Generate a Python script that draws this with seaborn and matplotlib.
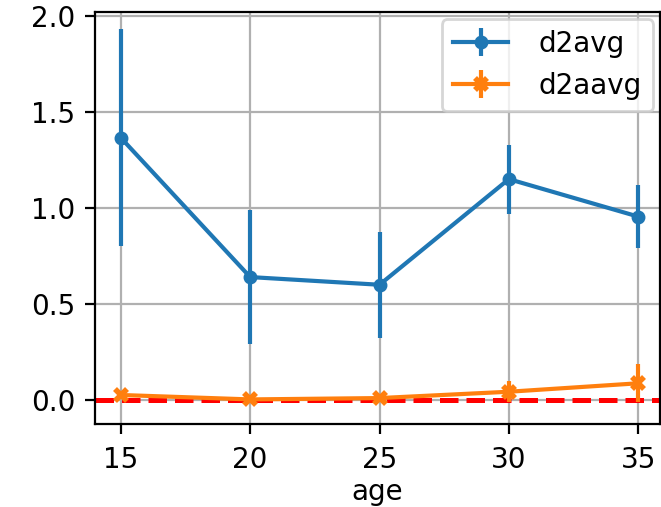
import matplotlib
matplotlib.use("Agg")
import matplotlib.pyplot as plt
import seaborn as sns

# data
ages = [15, 20, 25, 30, 35]
d2avg = [1.365, 0.64, 0.60, 1.15, 0.955]
d2avg_err = [0.565, 0.35, 0.277, 0.18, 0.165]
d2aavg = [0.026, 0.003, 0.01, 0.043, 0.087]
d2aavg_err = [0.005, 0.005, 0.01, 0.055, 0.10]

colors = sns.color_palette("tab10")

fig = plt.figure(figsize=(3.305, 2.535), dpi=200)
ax = fig.add_axes([0.1437, 0.1637, 0.855, 0.8126])

ax.errorbar(ages, d2avg, yerr=d2avg_err, color=colors[0], marker="o",
            markersize=4, label="d2avg")
ax.errorbar(ages, d2aavg, yerr=d2aavg_err, color=colors[1], marker="x",
            markersize=4, markeredgewidth=2, label="d2aavg")
ax.axhline(0, color="red", linestyle="--", linewidth=1.8, zorder=1.8)

ax.set_xlim(14, 35.85)
ax.set_ylim(-0.125, 2.02)
ax.set_xticks(ages)
ax.set_yticks([0.0, 0.5, 1.0, 1.5, 2.0])
ax.tick_params(axis="x", pad=4.5)
ax.grid(True)
ax.set_xlabel("age", labelpad=1.5)
ax.legend(loc="upper right", borderaxespad=0.25, handletextpad=1.1)

fig.savefig("out.png", dpi=200)
